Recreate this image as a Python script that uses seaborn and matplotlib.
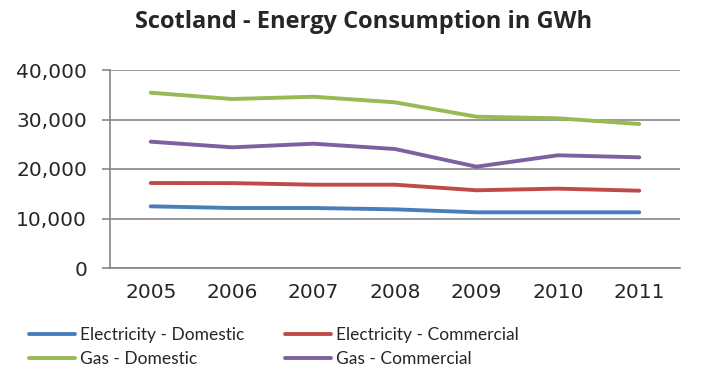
import pandas as pd
import seaborn as sns
import matplotlib.pyplot as plt

years = ["2005", "2006", "2007", "2008", "2009", "2010", "2011"]
elec_domestic = [12460, 12120, 12120, 11850, 11250, 11250, 11250]
elec_commercial = [17170, 17150, 16830, 16830, 15700, 16030, 15620]
gas_domestic = [35410, 34140, 34600, 33470, 30570, 30240, 29090]
gas_commercial = [25520, 24380, 25110, 24040, 20470, 22770, 22360]

series = {
    "Electricity - Domestic": elec_domestic,
    "Electricity - Commercial": elec_commercial,
    "Gas - Domestic": gas_domestic,
    "Gas - Commercial": gas_commercial,
}
colors = ["#4A7EBB", "#BE4B48", "#98B954", "#7D60A0"]

rows = []
for name, vals in series.items():
    for i, (yr, v) in enumerate(zip(years, vals)):
        rows.append({"year": yr, "pos": i, "series": name, "value": v})
df = pd.DataFrame(rows)

sns.set_style("white")
plt.rcParams['font.family'] = ['DejaVu Sans']

fig = plt.figure(figsize=(7.07, 3.72), dpi=100)
ax = fig.add_axes([110 / 707, 1 - 268 / 372, 570 / 707, 198 / 372])

sns.lineplot(data=df, x="pos", y="value", hue="series", palette=colors,
             linewidth=2.8, ax=ax, legend=False)

yt = [0, 10000, 20000, 30000, 40000]
ax.set_xlim(-0.5, 6.5)
ax.set_ylim(0, 40000)
ax.set_yticks(yt)
ax.set_yticklabels([f"{v:,}" for v in yt], fontsize=14.5)
ax.set_xticks(range(len(years)))
ax.set_xticklabels(years, fontsize=14.5)
ax.set_xticks([i - 0.5 for i in range(len(years) + 1)], minor=True)
ax.tick_params(axis="x", which="major", length=0, pad=11)
ax.tick_params(axis="x", which="minor", length=4, color="#868686", width=1.2)
ax.tick_params(axis="y", length=5.5, color="#868686", width=1.2, left=True, pad=11)
ax.set_xlabel("")
ax.set_ylabel("")

ax.grid(axis="y", color="#868686", linewidth=1.2)
ax.set_axisbelow(True)
for side in ["top", "right"]:
    ax.spines[side].set_visible(False)
for side in ["left", "bottom"]:
    ax.spines[side].set_color("#868686")
    ax.spines[side].set_linewidth(1.2)

fig.text(135 / 707, 1 - 22 / 372, "Scotland - Energy Consumption in GWh", ha="left",
         va="center", fontsize=17, fontweight="bold", family="Open Sans")

# matplotlib fills legend columns first, so reorder to get row-wise layout
names = list(series.keys())
order = [0, 2, 1, 3]
handles = [plt.Line2D([0], [0], color=colors[i], linewidth=2.8) for i in order]
labels = [names[i] for i in order]
fig.legend(handles, labels, ncol=2, loc="center left",
           bbox_to_anchor=(13 / 707, 1 - 347 / 372), frameon=False,
           prop={"family": "Lato", "size": 12.5},
           handlelength=2.65, handletextpad=0.3, columnspacing=2.35,
           labelspacing=0.5)

fig.savefig("out.png", dpi=100)
